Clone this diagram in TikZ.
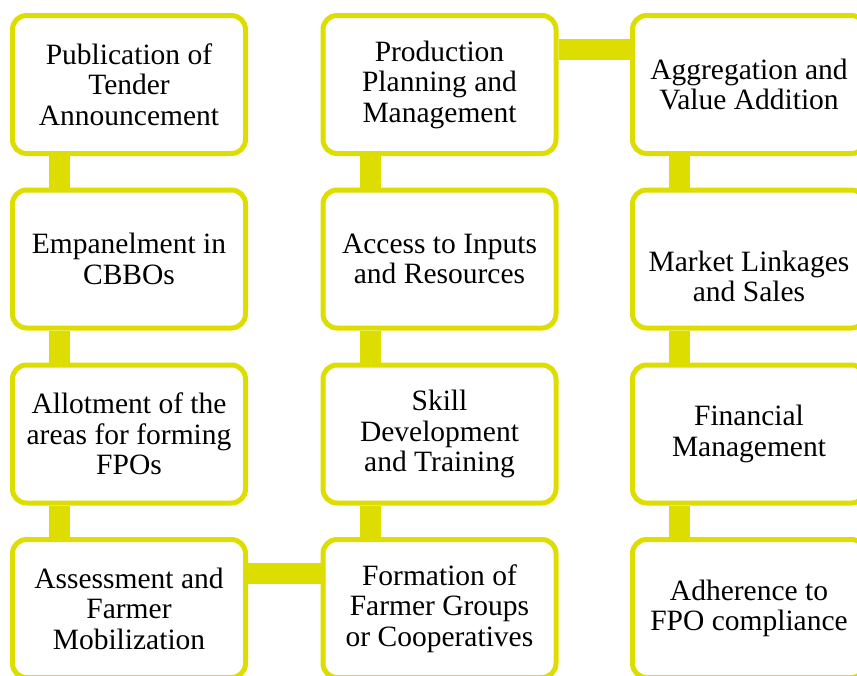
\documentclass[tikz,border=0pt]{standalone}
\usepackage{fontspec}
\setmainfont{Liberation Serif}
\usetikzlibrary{backgrounds}
\definecolor{ylw}{RGB}{221,221,0}
\tikzset{
  box/.style={draw=ylw, line width=5pt, fill=white, rounded corners=14pt,
    minimum width=233pt, minimum height=138pt, inner sep=0pt, align=center,
    font=\fontsize{29.5}{30.5}\selectfont, text=black},
  conn/.style={draw=ylw, line width=21pt}
}
\begin{document}
\begin{tikzpicture}[x=1pt,y=-1pt]
\useasboundingbox (0,0) rectangle (857,675);
\clip (0,0) rectangle (857,675);
% column 1
\node[box] (a1) at (129,84.5) {Publication of\\Tender\\Announcement};
\node[box] (a2) at (129,259) {Empanelment in\\CBBOs};
\node[box] (a3) at (129,434) {Allotment of the\\areas for forming\\FPOs};
\node[box] (a4) at (129,608.5) {Assessment and\\Farmer\\Mobilization};
% column 2
\node[box] (b1) at (439.5,84.5) {Production\\Planning and\\Management};
\node[box] (b2) at (439.5,259) {Access to Inputs\\and Resources};
\node[box] (b3) at (439.5,434) {Skill\\Development\\and Training};
\node[box] (b4) at (439.5,608.5) {Formation of\\Farmer Groups\\or Cooperatives};
% column 3
\node[box] (c1) at (749,84.5) {Aggregation and\\Value Addition};
\node[box] (c2) at (749,259) {\rule{0pt}{55pt}Market Linkages\\and Sales};
\node[box] (c3) at (749,434) {Financial\\Management};
\node[box] (c4) at (749,608.5) {Adherence to\\FPO compliance};
\begin{scope}[on background layer]
\foreach \u/\v in {a1/a2,a2/a3,a3/a4,b1/b2,b2/b3,b3/b4,c1/c2,c2/c3,c3/c4}{
  \draw[conn] ([xshift=49.5pt]\u.south west) -- ([xshift=49.5pt]\v.north west);
}
\draw[conn] ([yshift=-36.5pt]b1.north east) -- ([yshift=-36.5pt]c1.north west);
\draw[conn] ([yshift=-36.5pt]a4.north east) -- ([yshift=-36.5pt]b4.north west);
\end{scope}
\end{tikzpicture}
\end{document}
